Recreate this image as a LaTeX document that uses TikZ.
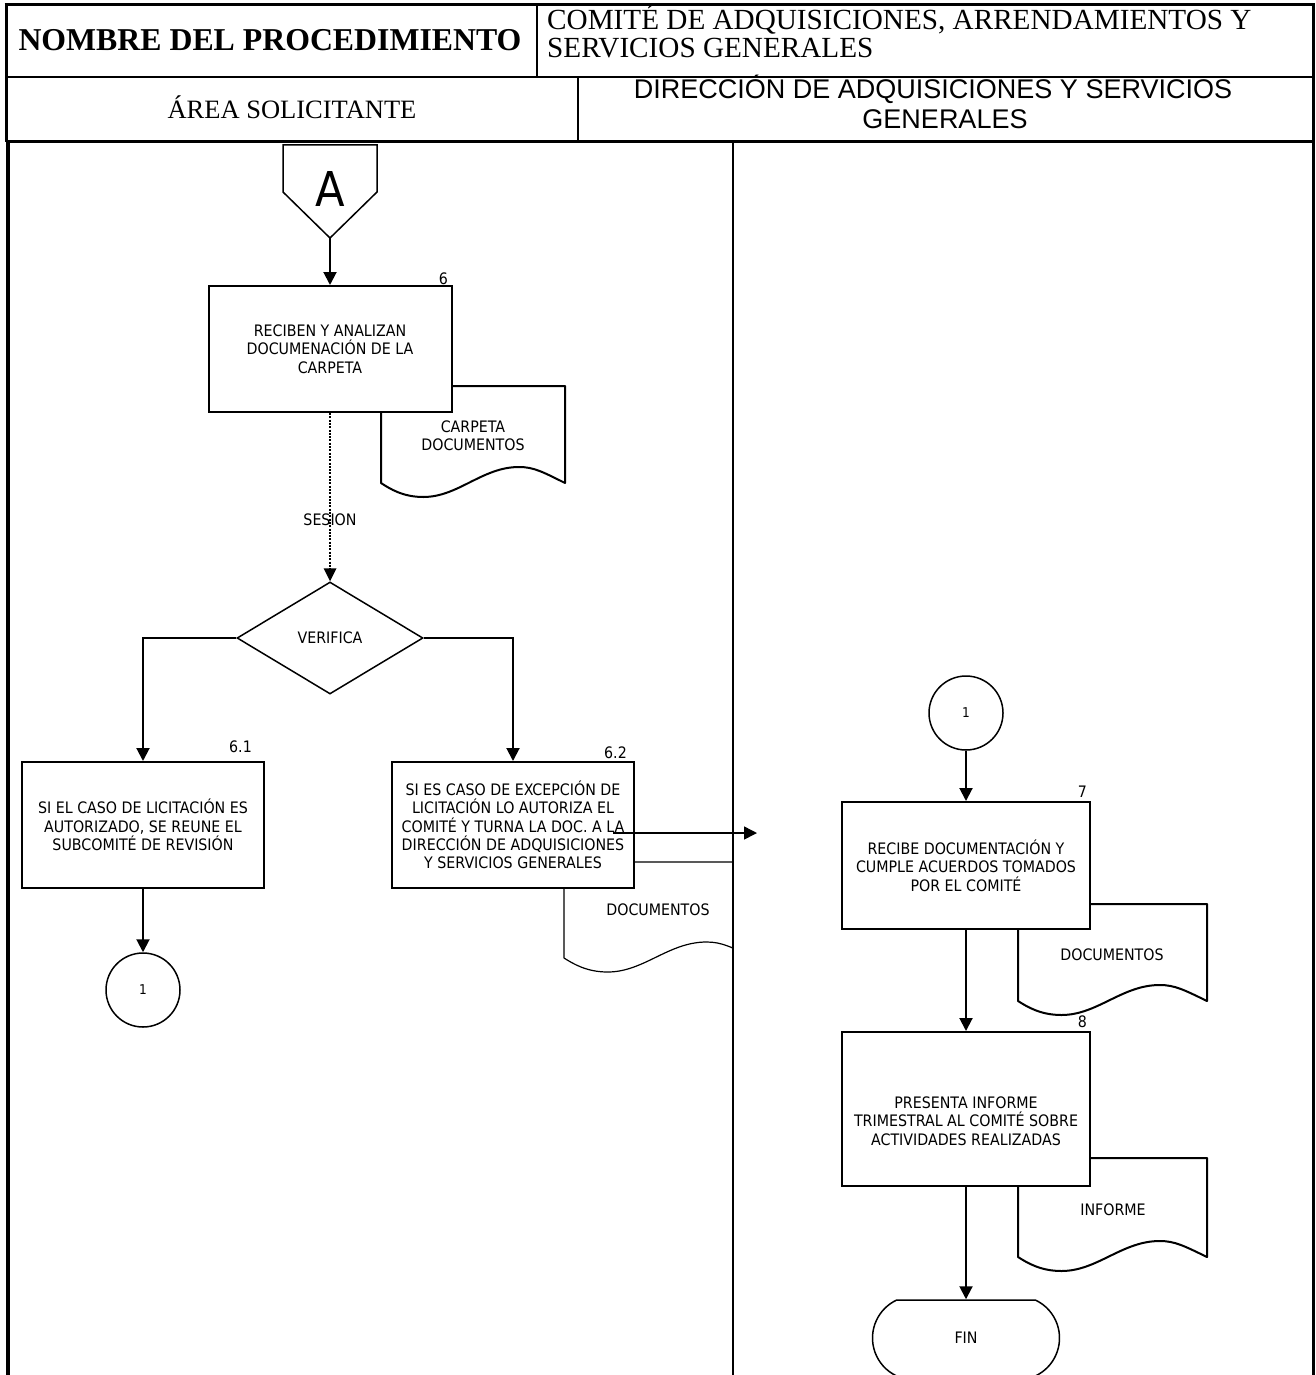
\documentclass[tikz,border=0pt]{standalone}
\usepackage{fontspec}
\setmainfont{Liberation Serif}
\newfontfamily\tah[FakeStretch=0.9]{DejaVu Sans}
\newfontfamily\arialf{Liberation Sans}
\usetikzlibrary{arrows.meta,shapes.geometric,shapes.misc}
\newcommand{\docshape}[5]{%
 \draw[docline,#5] (#1,#2) -- ({#1+#3},#2) -- ({#1+#3},{#2+#4})
  .. controls ({#1+0.88*#3},{#2+#4-11}) and ({#1+0.83*#3},{#2+#4-16}) .. ({#1+0.75*#3},{#2+#4-16})
  .. controls ({#1+0.55*#3},{#2+#4-16}) and ({#1+0.42*#3},{#2+#4+14}) .. ({#1+0.23*#3},{#2+#4+14})
  .. controls ({#1+0.12*#3},{#2+#4+14}) and ({#1+0.05*#3},{#2+#4+6}) .. (#1,{#2+#4}) -- cycle;}
\begin{document}
\begin{tikzpicture}[x=1pt,y=-1pt,
  frame/.style={line width=3pt},
  thin frame/.style={line width=2pt},
  procbox/.style={draw,line width=2pt,fill=white,inner sep=0pt,align=center,
    minimum width=243pt,minimum height=126pt,font=\tah\fontsize{15.8}{18.3}\selectfont},
  btext/.style={align=center,inner sep=0pt,font=\tah\fontsize{15.8}{18.3}\selectfont},
  numlabel/.style={anchor=base east,inner sep=0pt,font=\tah\fontsize{15.8}{18}\selectfont},
  docline/.style={draw,line width=2pt,fill=white,line join=round},
  conn/.style={draw,circle,line width=1.5pt,fill=white,minimum size=74pt,inner sep=0pt,
    font=\tah\fontsize{13.5}{15}\selectfont},
  flow/.style={line width=2pt,-{Triangle[length=13pt,width=13pt]}},
  dotflow/.style={line width=2.6pt,dash pattern=on 2pt off 1.3pt,-{Triangle[length=13pt,width=13pt,line width=0pt]}},
  hdr/.style={inner sep=0pt}
]
\useasboundingbox (0,0) rectangle (1315,1375);
\fill[white] (0,0) rectangle (1315,1375);

% ---------- header ----------
\draw[frame] (4.5,5) -- (1313,5);
\draw[frame] (6,5) -- (6,142);
\draw[line width=4pt] (8,142) -- (8,1375);
\draw[frame] (1313,3.5) -- (1313,1375);
\draw[line width=2.5pt] (6,77) -- (1313,77);
\draw[thin frame] (537,5) -- (537,77);
\draw[thin frame] (578,77) -- (578,142);
\draw[frame] (6,142) -- (1313,142);
\draw[thin frame] (733,142) -- (733,1375);

\node[hdr,anchor=base,font=\bfseries\fontsize{31.8}{34}\selectfont] (hname) at (270,51) {NOMBRE DEL PROCEDIMIENTO};
\node[hdr,anchor=base west,font=\fontsize{29.2}{30}\selectfont] (htitA) at (547,30) {COMITÉ DE ADQUISICIONES, ARRENDAMIENTOS Y};
\node[hdr,anchor=base west,font=\fontsize{29.2}{30}\selectfont] (htitB) at (547,58) {SERVICIOS GENERALES};
\node[hdr,anchor=base,font=\fontsize{26.5}{28}\selectfont] (harea) at (292,119) {ÁREA SOLICITANTE};
\node[hdr,anchor=base,font=\arialf\fontsize{27}{28}\selectfont] (hdirA) at (933,99) {DIRECCIÓN DE ADQUISICIONES Y SERVICIOS};
\node[hdr,anchor=base,font=\arialf\fontsize{27}{28}\selectfont] (hdirB) at (945,129) {GENERALES};

% ---------- documents (behind boxes) ----------
\docshape{381}{386}{184}{97}{}
\node[btext] (tcarp) at (473,436) {CARPETA\\DOCUMENTOS};
\begin{scope}
  \clip (0,142) rectangle (733,1375);
  \docshape{564}{862}{190}{96}{line width=1.2pt}
\end{scope}
\node[btext] (tdoc62) at (658,910) {DOCUMENTOS};
\docshape{1018}{904}{189}{97}{}
\node[btext] (tdoc7) at (1112,955) {DOCUMENTOS};
\docshape{1018}{1158}{189}{99}{}
\node[btext] (tinf) at (1113,1210) {INFORME};
\draw[thin frame] (733,860) -- (733,1000);

% ---------- off-page connector A ----------
\draw[line width=1.5pt,fill=white,line join=miter] (283,145) -- (377,145) -- (377,192) -- (330,238) -- (283,192) -- cycle;
\node[inner sep=0pt,font=\tah\fontsize{48}{50}\selectfont] (offA) at (330,189) {A};
\coordinate (Abot) at (330,238);

% ---------- process boxes ----------
\node[procbox] (b6) at (330,349) {RECIBEN Y ANALIZAN\\DOCUMENACIÓN DE LA\\CARPETA};
\node[numlabel] (n6) at (448,284) {6};

\node[procbox,minimum width=242pt] (b61) at (143,825) {SI EL CASO DE LICITACIÓN ES\\AUTORIZADO, SE REUNE EL\\SUBCOMITÉ DE REVISIÓN};
\node[numlabel] (n61) at (252,752) {6.1};

\node[procbox,minimum width=242pt] (b62) at (513,825) {SI ES CASO DE EXCEPCIÓN DE\\LICITACIÓN LO AUTORIZA EL\\COMITÉ Y TURNA LA DOC. A LA\\DIRECCIÓN DE ADQUISICIONES\\Y SERVICIOS GENERALES};
\node[numlabel] (n62) at (627,758) {6.2};

\node[procbox,minimum width=248pt,minimum height=127pt] (b7) at (966,865.5) {RECIBE DOCUMENTACIÓN Y\\CUMPLE ACUERDOS TOMADOS\\POR EL COMITÉ};
\node[numlabel] (n7) at (1087,797) {7};

\node[procbox,minimum width=248pt,minimum height=154pt] (b8) at (966,1109) {};
\node[btext] (t8) at (966,1121) {PRESENTA INFORME\\TRIMESTRAL AL COMITÉ SOBRE\\ACTIVIDADES REALIZADAS};
\node[numlabel] (n8) at (1087,1027) {8};

% ---------- decision ----------
\node[diamond,draw,line width=1.5pt,fill=white,inner sep=0pt,aspect=1.66,
  minimum width=186pt,minimum height=112pt,font=\tah\fontsize{15.8}{18}\selectfont] (dia) at (330,638) {VERIFICA};
\node[btext] (ses) at (330,520) {SESION};

% ---------- on-page connectors / terminal ----------
\node[conn] (c1a) at (143,990) {1};
\node[conn] (c1b) at (966,713) {1};
\node[rounded rectangle,draw,line width=1.5pt,fill=white,rounded rectangle arc length=130,
  minimum width=187pt,minimum height=76pt,inner sep=0pt,font=\tah\fontsize{15.8}{18}\selectfont] (fin) at (966,1338) {FIN};

% ---------- connectors ----------
\draw[flow] (Abot) -- (b6.north);
\draw[dotflow] (b6.south) -- (dia.north);
\draw[flow] (dia.west) -| (b61.north);
\draw[flow] (dia.east) -| (b62.north);
\draw[flow] (b61.south) -- (c1a.north);
\draw[flow] (c1b.south) -- (b7.north);
\draw[flow] (b7.south) -- (b8.north);
\draw[flow] (b8.south) -- (fin.north);
\coordinate (o1) at (613,833);
\coordinate (o2) at (757,833);
\draw[line width=1.5pt,-{Triangle[length=13pt,width=13pt]}] (o1) -- (o2);
\end{tikzpicture}
\end{document}
